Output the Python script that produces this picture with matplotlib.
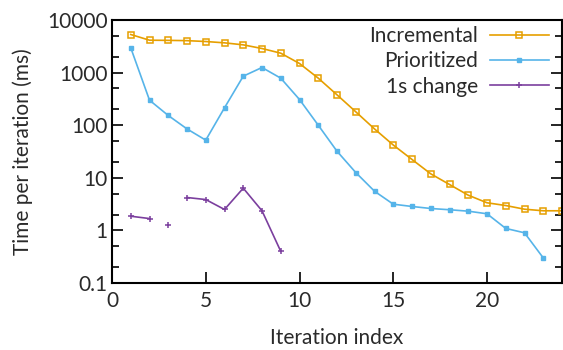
import matplotlib
matplotlib.use('Agg')
import matplotlib.pyplot as plt
import numpy as np
from matplotlib.ticker import LogLocator, FixedLocator, NullFormatter

plt.rcParams['font.family'] = ['Lato', 'DejaVu Sans']

# Данные
iters = np.arange(1, 25)
incremental = [5300, 4130, 4100, 4050, 3900, 3680, 3370, 2870, 2340, 1490,
               784, 378, 180, 85, 42, 22.3, 11.9, 7.46, 4.67, 3.35,
               2.97, 2.53, 2.36, 2.36]
prior_x = np.arange(1, 24)
prioritized = [2960, 299, 153, 85, 52, 214, 855, 1250, 784, 308,
               100, 32, 12.6, 5.56, 3.15, 2.85, 2.61, 2.47, 2.32, 2.07,
               1.09, 0.90, 0.30]
change_x = np.arange(1, 10)
change_1s = [1.86, 1.68, 1.24, 4.22, 3.86, 2.5, 6.35, 2.36, 0.40]
# точка 3 стоит отдельно, линии её не соединяют
change_breaks = [2, 3]

c_inc = '#E69F00'
c_pri = '#56B4E9'
c_chg = '#7B3F9E'
c_txt = '#2a2a2a'
fs = 15

fig = plt.figure(figsize=(5.63, 3.5), dpi=100)
ax = fig.add_axes([112 / 563, 1 - 283 / 350, 450 / 563, 263 / 350])

ax.plot(iters, incremental, '-', color=c_inc, lw=1.2, marker='s', ms=3.8,
        mfc='none', mec=c_inc, mew=1.1, label='Incremental')
ax.plot(prior_x, prioritized, '-', color=c_pri, lw=1.2, marker='s', ms=3,
        label='Prioritized')

# 1s change: линия с разрывами
cx = np.array(change_x, dtype=float)
cy = np.array(change_1s, dtype=float)
lx = np.insert(cx, change_breaks, np.nan)
ly = np.insert(cy, change_breaks, np.nan)
ax.plot(lx, ly, '-', color=c_chg, lw=1.2)
ax.plot(cx, cy, '+', color=c_chg, ms=4, mew=1.1)
ax.plot([], [], '-', color=c_chg, lw=1.2, marker='+', ms=4, mew=1.1,
        label='1s change')

ax.set_yscale('log')
ax.set_xlim(0, 24)
ax.set_ylim(0.1, 10000)
ax.set_xticks([0, 5, 10, 15, 20])
ax.yaxis.set_major_locator(FixedLocator([0.1, 1, 10, 100, 1000, 10000]))
ax.set_yticklabels(['0.1', '1', '10', '100', '1000', '10000'])
ax.yaxis.set_minor_locator(LogLocator(base=10, subs=(2, 5)))
ax.yaxis.set_minor_formatter(NullFormatter())

ax.tick_params(axis='both', which='both', direction='in', labelsize=fs,
               labelcolor=c_txt, color='black', width=1.2)
ax.tick_params(axis='y', which='major', length=8, right=True, pad=3)
ax.tick_params(axis='y', which='minor', length=5, right=True)
ax.tick_params(axis='x', length=8, top=False, pad=6)
for s in ax.spines.values():
    s.set_linewidth(1.5)

ax.set_xlabel('Iteration index', fontsize=fs, color=c_txt, labelpad=12)
ax.set_ylabel('Time per iteration (ms)', fontsize=fs, color=c_txt, labelpad=10)

leg = ax.legend(loc='upper right', frameon=False, fontsize=fs, markerfirst=False,
                handlelength=2.85, labelspacing=0.25, borderaxespad=0.1,
                borderpad=0.2, handletextpad=0.55, bbox_to_anchor=(0.985, 1.0))
for t in leg.get_texts():
    t.set_color(c_txt)

fig.savefig('out.png', dpi=100)
